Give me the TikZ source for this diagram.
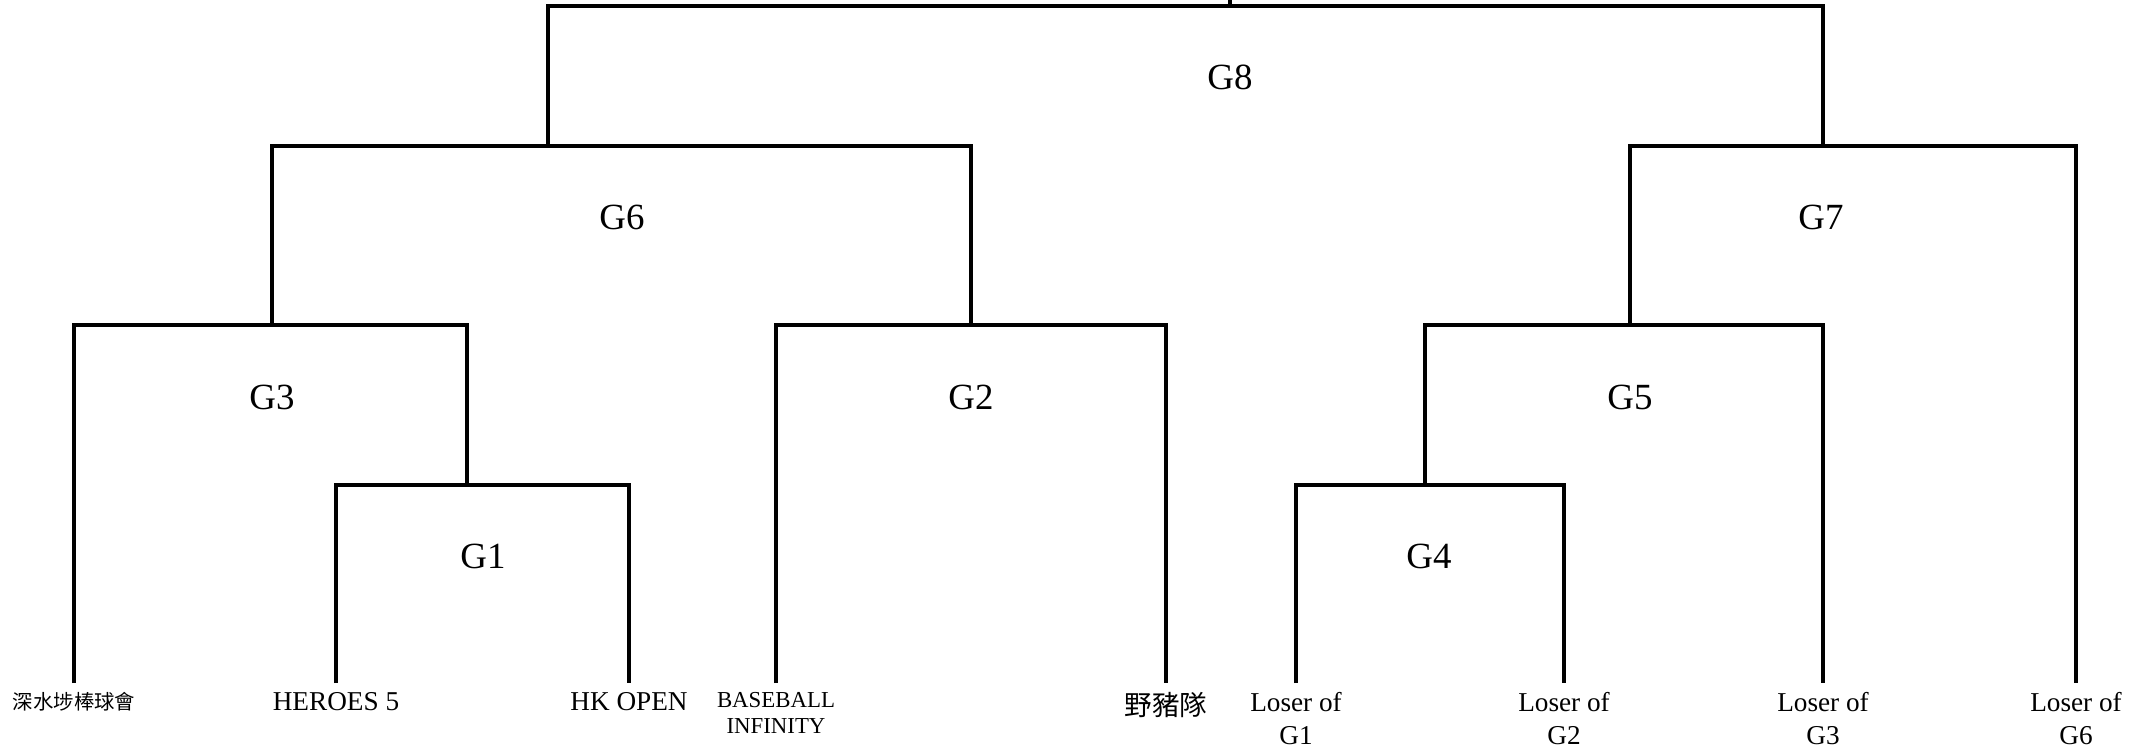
\documentclass[tikz,border=0pt]{standalone}
\usepackage{fontspec}
\setmainfont{Liberation Serif}
\newfontfamily\cjk{Noto Sans CJK TC}
\usetikzlibrary{positioning}
\tikzset{
	bracket/.style={line width=2.1pt},
	game/.style={inner sep=0pt, font=\fontsize{21}{25}\selectfont},
	team/.style={inner sep=0pt, align=center, font=\fontsize{15.5}{19}\selectfont},
}

\begin{document}
\begin{tikzpicture}[x=0.02cm,y=-0.02cm]
				\useasboundingbox (0,0) rectangle (2153,753);
				\def\leafy{683};
				\def\gap{0.18cm};
				\coordinate (ssp) at (74,\leafy);
				\coordinate (heroes) at (336,\leafy);
				\coordinate (hkopen) at (629,\leafy);
				\coordinate (baseball) at (776,\leafy);
				\coordinate (boar) at (1166,\leafy);
				\coordinate (lgone) at (1296,\leafy);
				\coordinate (lgtwo) at (1564,\leafy);
				\coordinate (lgthree) at (1823,\leafy);
				\coordinate (lgsix) at (2076,\leafy);
				\coordinate (g1) at (467,485);
				\coordinate (g3) at (272,325);
				\coordinate (g2) at (971,325);
				\coordinate (g6) at (548,146);
				\coordinate (g4) at (1425,485);
				\coordinate (g5) at (1630,325);
				\coordinate (g7) at (1823,146);
				\coordinate (g8) at (1230,6);
				\coordinate (top) at (1230,0);
				\draw[bracket]
				(heroes) |- (g1) -| (hkopen)
				(ssp) |- (g3) -| (g1)
				(baseball) |- (g2) -| (boar)
				(g3) |- (g6) -| (g2)
				(lgone) |- (g4) -| (lgtwo)
				(g4) |- (g5) -| (lgthree)
				(g5) |- (g7) -| (lgsix)
				(g6) |- (g8) -| (g7)
				(g8) -- (top);
				\node[game] (tg8) at (1230,77) {G8};
				\node[game] (tg6) at (622,217) {G6};
				\node[game] (tg7) at (1821,217) {G7};
				\node[game] (tg3) at (272,397) {G3};
				\node[game] (tg2) at (971,397) {G2};
				\node[game] (tg5) at (1630,397) {G5};
				\node[game] (tg1) at (483,556) {G1};
				\node[game] (tg4) at (1429,556) {G4};
				\node[team, font=\cjk\fontsize{11.6}{14}\selectfont, below=\gap of ssp] (tssp) {深水埗棒球會};
				\node[team, below=\gap of heroes] (theroes) {HEROES 5};
				\node[team, below=\gap of hkopen] (thkopen) {HK OPEN};
				\node[team, font=\fontsize{13}{15}\selectfont, below=\gap of baseball] (tbaseball) {BASEBALL\\INFINITY};
				\node[team, font=\cjk\fontsize{15.7}{18}\selectfont, below=\gap of boar] (tboar) {野豬隊};
				\node[team, below=\gap of lgone] (tlgone) {Loser of\\G1};
				\node[team, below=\gap of lgtwo] (tlgtwo) {Loser of\\G2};
				\node[team, below=\gap of lgthree] (tlgthree) {Loser of\\G3};
				\node[team, below=\gap of lgsix] (tlgsix) {Loser of\\G6};
			\end{tikzpicture}
\end{document}
